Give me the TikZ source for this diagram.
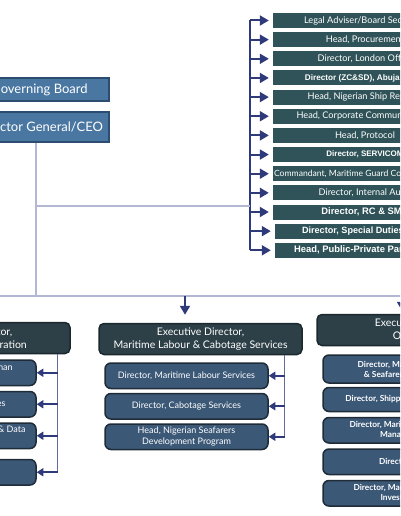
\documentclass[tikz,border=0pt]{standalone}
\usepackage{fontspec}
\setmainfont{Lato}
\newfontfamily\boldsans{Liberation Sans}
\usetikzlibrary{positioning,arrows.meta}
\definecolor{Navy}{HTML}{2E3A7A}
\definecolor{Lilac}{HTML}{B3B7D3}
\definecolor{Teal}{HTML}{2F5358}
\definecolor{Slate}{HTML}{2D3F47}
\definecolor{SlateEdge}{HTML}{1B282E}
\definecolor{Steel}{HTML}{3B5877}
\definecolor{SteelEdge}{HTML}{1F2C38}
\definecolor{Board}{HTML}{4A77A2}
\definecolor{BoardEdge}{HTML}{2C4C70}

\begin{document}
\begin{tikzpicture}[x=1pt,y=1pt,
    node distance=3.75pt,
    govbox/.style={draw=BoardEdge,line width=1.5pt,fill=Board,text=white,minimum width=139pt,
                   inner sep=0pt,font=\fontsize{13}{15}\selectfont},
    unitbox/.style={fill=Teal,text=white,minimum width=184pt,minimum height=15pt,inner sep=0pt,
                    font=\fontsize{9.2}{10}\selectfont},
    unitbold/.style={unitbox,font=\boldsans\bfseries\fontsize{8}{9}\selectfont},
    unitwide/.style={unitbox,font=\boldsans\bfseries\fontsize{9.4}{10}\selectfont},
    edbox/.style={draw=SlateEdge,line width=1.5pt,rounded corners=5pt,fill=Slate,text=white,
                  minimum width=203pt,minimum height=31pt,inner sep=0pt,align=center,
                  font=\fontsize{10.5}{12.5}\selectfont},
    subbox/.style={draw=SteelEdge,line width=1.5pt,rounded corners=6pt,fill=Steel,text=white,
                   minimum width=163pt,minimum height=25.5pt,inner sep=0pt,align=center,
                   font=\fontsize{9}{11}\selectfont},
    subbold/.style={subbox,font=\fontsize{8.3}{10}\selectfont\bfseries},
    arrow/.style={-{Triangle[length=9pt,width=10pt]},line width=2pt,Navy},
    tick/.style={-{Triangle[length=6.5pt,width=8pt]},line width=1.6pt,Navy},
    rail/.style={line width=1.6pt,Navy},
    spine/.style={line width=0.8pt,Navy!75},
    link/.style={line width=1.3pt,Lilac}
  ]
    \useasboundingbox (0,0) rectangle (400,-516);
    \clip (0,0) rectangle (400,-516);

    % board and DG
    \node[govbox,minimum height=23pt] (gb) at (39.5,-89.5) {Governing Board};
    \node[govbox,minimum height=30pt] (dg) at (39.5,-127) {Director General/CEO};

    % units under the DG
    \node[unitbox] (legal) at (365,-20.5) {Legal Adviser/Board Secretary};
    \node[unitbox,below=of legal] (proc) {Head, Procurement};
    \node[unitbox,below=of proc] (london) {Director, London Office};
    \node[unitbold,below=of london,font=\boldsans\bfseries\fontsize{8.2}{9}\selectfont] (abuja) {Director (ZC\&SD), Abuja Office};
    \node[unitbox,below=of abuja] (ship) {Head, Nigerian Ship Registry};
    \node[unitbox,below=of ship] (corp) {Head, Corporate Communications};
    \node[unitbox,below=of corp] (prot) {Head, Protocol};
    \node[unitbold,below=of prot] (servicom) {Director, SERVICOM};
    \node[unitbox,below=of servicom,font=\fontsize{8.6}{10}\selectfont] (guard) {Commandant, Maritime Guard Command (MGC)};
    \node[unitbox,below=of guard] (audit) {Director, Internal Audit};
    \node[unitwide,below=of audit] (rcsmr) {Director, RC \& SMR};
    \node[unitwide,below=of rcsmr,xshift=2pt,font=\boldsans\bfseries\fontsize{9.1}{10}\selectfont] (duties) {Director, Special Duties Office};
    \node[unitwide,below=of duties] (ppp) {Head, Public-Private Partnership};

    \coordinate (railtop) at ([xshift=-23pt]legal.west);
    \coordinate (railbot) at ([xshift=-25pt]ppp.west);
    \draw[rail] (railtop) -- (railtop |- railbot);
    \foreach \u in {legal,proc,london,abuja,ship,corp,prot,servicom,guard,audit,rcsmr,duties,ppp}
      \draw[arrow,shorten >=4pt] (railtop |- \u.west) -- (\u.west);

    % trunk and bus
    \coordinate (tap) at (36,-206);
    \coordinate (trunk) at (36,-296);
    \coordinate (busL) at (-10,-296);
    \coordinate (busR) at (410,-296);
    \draw[link] (dg.south -| trunk) -- (trunk);
    \draw[link] (tap) -- (tap -| railtop);
    \draw[link] (busL) -- (busR);

    % executive directors
    \node[edbox] (edfa) at (-31.5,-338) {Executive Director,\\Finance \& Administration};
    \node[edbox] (edml) at (200.5,-339) {Executive Director,\\Maritime Labour \& Cabotage Services};
    \node[edbox] (edop) at (418.5,-330) {Executive Director,\\Operations};

    \coordinate (dropml) at (185,-296);
    \coordinate (dropop) at (402,-296);
    \draw[arrow,shorten >=8pt] (dropml) -- (dropml |- edml.north);
    \draw[arrow,shorten >=3pt] (dropop) -- (dropop |- edop.north);

    % finance & administration
    \node[subbox,below=5pt of edfa,xshift=-14pt] (hr) {Director, Corporate \& Human\\Resources};
    \node[subbox,below=4.5pt of hr] (fin) {Director, Finance Services};
    \node[subbox,below=4.5pt of fin] (data) {Director, Research, Statistics \& Data\\Management};
    \node[subbox,below=9.5pt of data] (est) {Director, Estates};
    \coordinate (faspine) at ([xshift=-13pt]edfa.south east);
    \draw[spine] (faspine) -- (faspine |- est.east);
    \draw[tick] (faspine |- hr.east) -- (hr.east); \draw[tick] (faspine |- fin.east) -- (fin.east);
    \draw[tick] (faspine |- data.east) -- (data.east); \draw[tick] (faspine |- est.east) -- (est.east);

    % maritime labour & cabotage
    \node[subbox,below=7pt of edml,xshift=-14pt] (mls) {Director, Maritime Labour Services};
    \node[subbox,below=3.5pt of mls] (cab) {Director, Cabotage Services};
    \node[subbox,below=3.5pt of cab] (sdp) {Head, Nigerian Seafarers\\Development Program};
    \coordinate (mlspine) at ([xshift=-18pt]edml.south east);
    \draw[spine] (mlspine) -- (mlspine |- sdp.east);
    \draw[tick] (mlspine |- mls.east) -- (mls.east); \draw[tick] (mlspine |- cab.east) -- (cab.east);
    \draw[tick] (mlspine |- sdp.east) -- (sdp.east);

    % operations
    \node[subbold,below=8pt of edop,xshift=-14pt,minimum height=28pt] (safety) {Director, Maritime Safety\\\& Seafarers Standards};
    \node[subbold,below=3pt of safety,minimum height=24pt] (shipdev) {Director, Shipping Development};
    \node[subbold,below=4.5pt of shipdev] (marine) {Director, Marine Environment\\Management};
    \node[subbold,below=4.5pt of marine] (isps) {Director, ISPS};
    \node[subbold,below=4.5pt of isps] (casualty) {Director, Maritime Casualty\\Investigation};
  \end{tikzpicture}
\end{document}
